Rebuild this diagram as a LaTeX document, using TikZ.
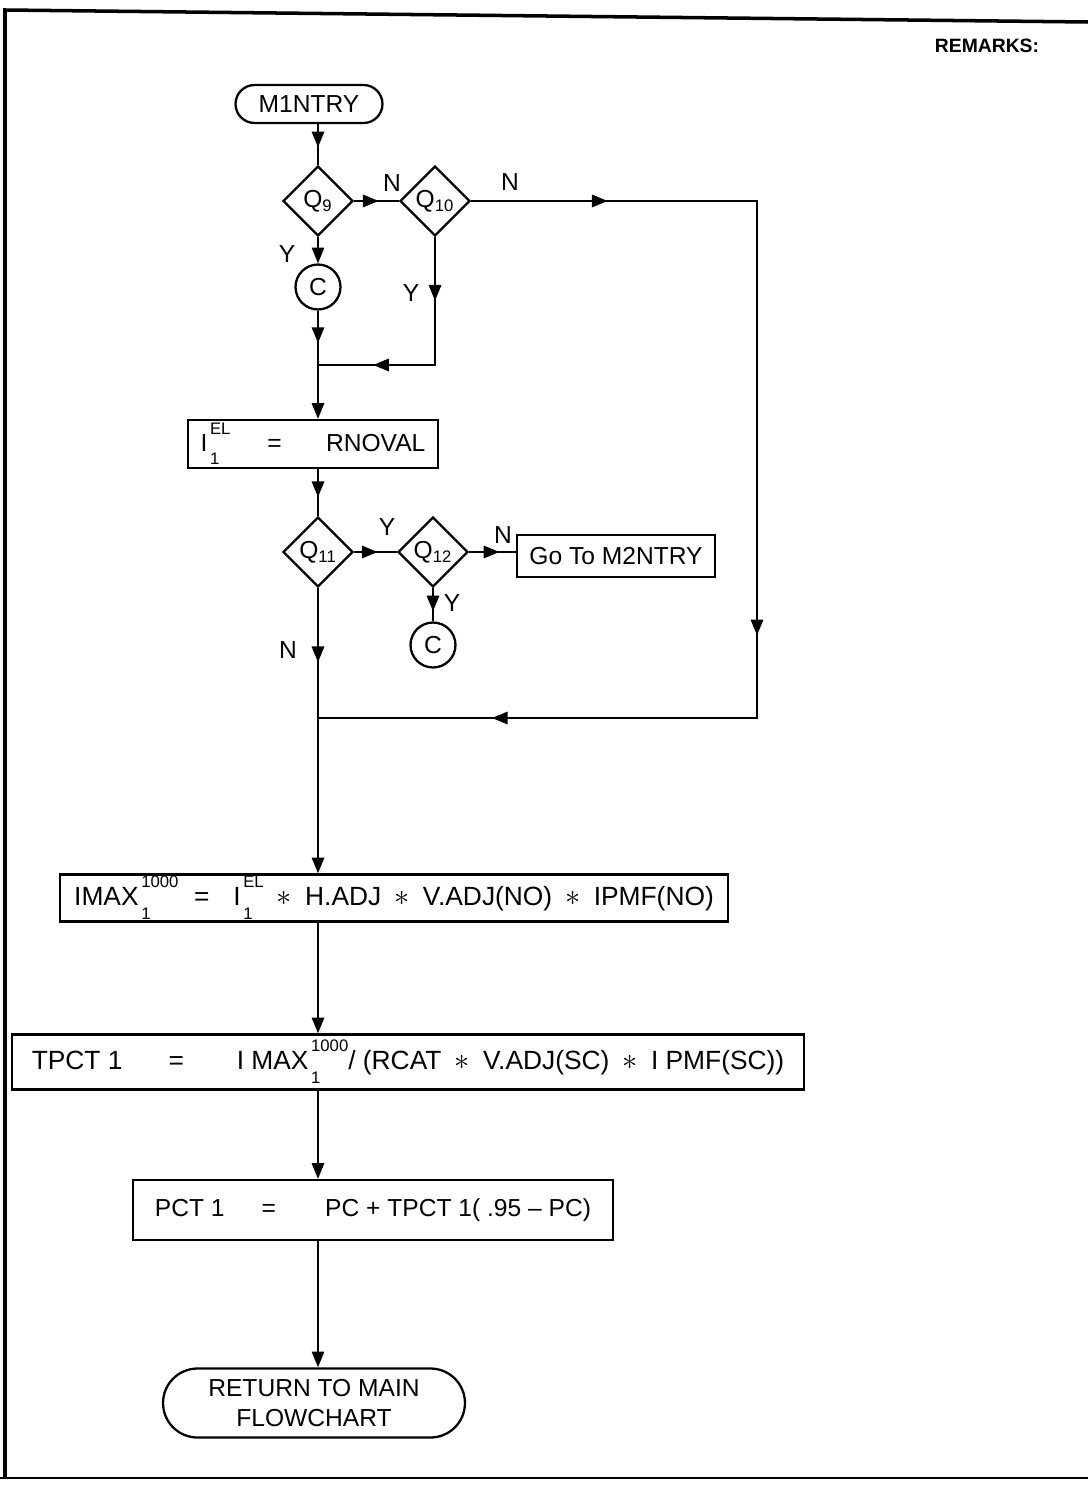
\documentclass[tikz,border=0pt]{standalone}
\usepackage{fontspec}
\setmainfont{Liberation Sans}
\usetikzlibrary{shapes.geometric,shapes.misc,arrows.meta,decorations.markings}
\newcommand{\subfont}{\fontsize{9.5}{10}\selectfont}
\newcommand{\supsub}[2]{\kern1.5pt\rlap{\raisebox{-1.0ex}{\subfont #2}}\raisebox{1.3ex}{\subfont #1}}
\newcommand{\qsub}[1]{Q$_{\mbox{\subfont #1}}$}
\newcommand{\mul}{\enspace{\fontsize{18}{18}\selectfont$\ast$}\enspace}

\begin{document}
\begin{tikzpicture}[x=0.02cm,y=-0.02cm,line width=1.3pt,
  every node/.style={font=\fontsize{14}{17}\selectfont},
  procbox/.style={draw,rectangle,inner sep=0pt},
  termbox/.style={draw,rounded rectangle,inner sep=0pt},
  decbox/.style={draw,diamond,inner sep=0pt,minimum width=1.4cm,minimum height=1.4cm},
  conn/.style={draw,circle,inner sep=0pt,minimum size=0.9cm},
  flow/.style={-{Triangle[length=9pt,width=7pt]}},
  arrowat/.style={postaction={decorate,decoration={markings,
    mark=at position #1 with {\arrow{Triangle[length=9pt,width=7pt]}}}}}]
\path[use as bounding box] (0,0) rectangle (1088,1487);
% sheet frame
\draw[line width=2pt] (5,1478) -- (5,10) -- (1088,22);
\draw[line width=1.5pt] (0,1478) -- (1088,1478);
\node[font=\fontsize{11}{13}\selectfont\bfseries] (remarks) at (987,46) {REMARKS:};

% upper part
\node[termbox,minimum width=2.94cm,minimum height=0.76cm] (m1) at (309,104) {M1NTRY};
\node[decbox] (q9) at (318,201) {\qsub{9}};
\node[decbox] (q10) at (435,201) {\qsub{10}};
\node[conn] (c1) at (318,287) {C};
\coordinate (k1) at (435,365);
\coordinate (r1) at (757,201);
\coordinate (r2) at (757,718);
\coordinate (j2) at (318,718);
\node[procbox,minimum width=5cm,minimum height=0.96cm] (rnoval) at (313,444)
  {I\supsub{EL}{1}\hspace{1.5em}=\hspace{1.8em}RNOVAL};
\node[decbox] (q11) at (318,552) {\qsub{11}};
\node[decbox] (q12) at (433,552) {\qsub{12}};
\node[procbox,minimum width=3.96cm,minimum height=0.84cm] (goto) at (616,556) {Go To M2NTRY};
\node[conn] (c2) at (433,645) {C};

% branch labels
\node (n9) at (392,183) {N};
\node (n10) at (510,182) {N};
\node (y9) at (287,254) {Y};
\node (y10) at (411,293) {Y};
\node (y11) at (387,527) {Y};
\node (n12) at (503,535) {N};
\node (y12) at (452,603) {Y};
\node (n11) at (288,650) {N};

% lower part
\node[procbox,minimum width=13.36cm,minimum height=0.94cm,font=\fontsize{15}{18}\selectfont] (imax) at (394,898)
  {IMAX\supsub{1000}{1}\hspace{0.6em}=\hspace{0.9em}I\supsub{EL}{1}\mul H.ADJ\mul V.ADJ(NO)\mul IPMF(NO)};
\node[procbox,minimum width=15.84cm,minimum height=1.1cm,font=\fontsize{15}{18}\selectfont] (tpct) at (408,1062)
  {TPCT 1\hspace{1.75em}=\hspace{2em}I MAX\supsub{1000}{1}/ (RCAT\mul V.ADJ(SC)\mul I PMF(SC))};
\node[procbox,minimum width=9.6cm,minimum height=1.2cm] (pct) at (373,1210)
  {PCT 1\hspace{1.5em}=\hspace{2em}PC + TPCT 1( .95 -- PC)};
\node[termbox,minimum width=6.04cm,minimum height=1.38cm,align=center] (ret) at (314,1403)
  {RETURN TO MAIN\\FLOWCHART};

% connectors
\draw[arrowat=0.57] (m1.south -| q9) -- (q9.north);
\draw[flow] (q9.south) -- (c1.north);
\draw[arrowat=0.55] (q9.east) -- (q10.west);
\draw[arrowat=0.11,arrowat=0.58,arrowat=0.86] (q10.east) -- (r1) -- (r2) -- (j2);
\draw[flow,arrowat=0.3] (c1.south) -- (rnoval.north -| c1);
\draw[arrowat=0.26,arrowat=0.775] (q10.south) -- (k1) -- (k1 -| c1);
\draw[arrowat=0.6] (rnoval.south -| q11) -- (q11.north);
\draw[arrowat=0.55] (q11.east) -- (q12.west);
\draw[arrowat=0.65] (q12.east) -- (q12.east -| goto.west);
\draw[arrowat=0.7] (q12.south) -- (c2.north);
\draw[flow,arrowat=0.26] (q11.south) -- (imax.north -| q11);
\draw[flow] (imax.south -| q11) -- (tpct.north -| q11);
\draw[flow] (tpct.south -| q11) -- (pct.north -| q11);
\draw[flow] (pct.south -| q11) -- (ret.north -| q11);
\end{tikzpicture}
\end{document}
